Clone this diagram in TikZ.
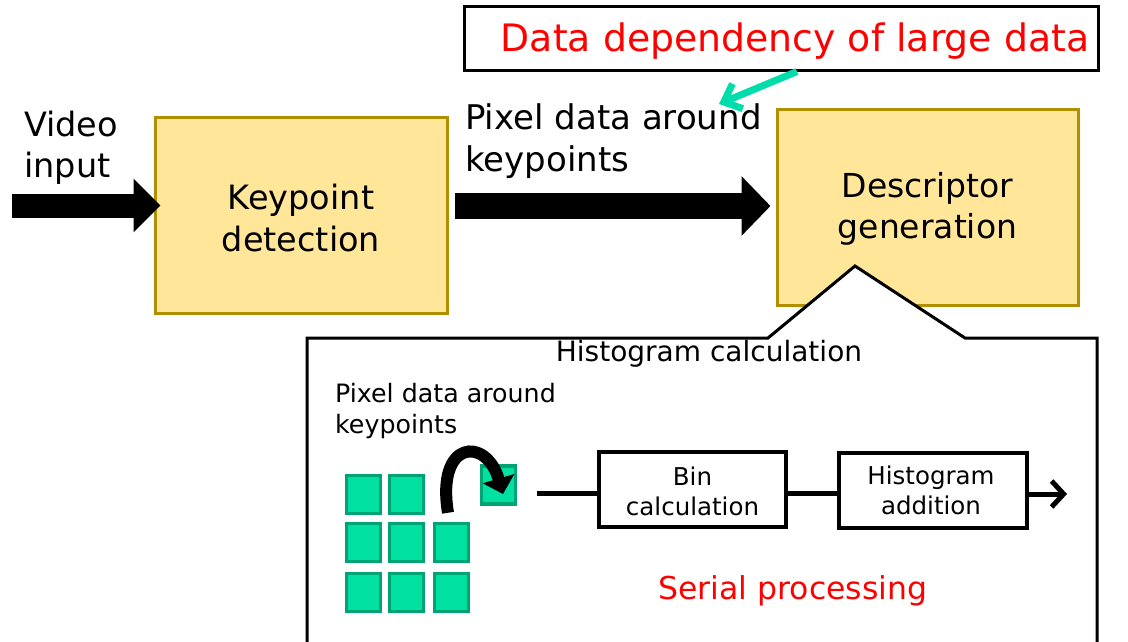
\documentclass[tikz,border=0pt]{standalone}
\usepackage{fontspec}
\setmainfont{DejaVu Sans}
\usetikzlibrary{arrows.meta}
\definecolor{boxfill}{HTML}{FFE699}
\definecolor{boxline}{HTML}{B08F00}
\definecolor{tealarrow}{HTML}{00DDAA}
\definecolor{cellfill}{HTML}{00E0A0}
\definecolor{cellline}{HTML}{00A474}
\definecolor{alertred}{HTML}{FF0000}
\newcommand{\fs}[1]{\fontsize{#1}{1.23\dimexpr#1pt\relax}\selectfont}
\tikzset{
  stage/.style={draw=boxline, fill=boxfill, line width=3pt, align=center,
    font=\fs{33.5}},
  substage/.style={draw=black, line width=4pt, align=center, font=\fs{24.5}},
  cell/.style={draw=cellline, fill=cellfill, line width=3.5pt,
    minimum width=34pt, minimum height=38pt, inner sep=0pt},
  label/.style={align=left, inner sep=0pt},
}
\begin{document}
\begin{tikzpicture}[x=1pt, y=-1pt]
\useasboundingbox (0,0) rectangle (1128,641);

% heading box
\node[draw=black, line width=3pt, minimum width=634pt, minimum height=64pt,
  inner sep=0pt] (topbox) at (781,38) {};
\node[text=alertred, font=\fs{37.8}, inner sep=0pt] (toplabel) at (795,41)
  {Data dependency of large data};

% main stages
\node[stage, minimum width=292pt, minimum height=196pt] (kp) at (301,215) {};
\node[font=\fs{33.5}, align=center, inner sep=0pt] (kptext) at (301,218)
  {Keypoint\\detection};
\node[stage, minimum width=301pt, minimum height=196pt] (desc) at (927.5,207) {};
\node[font=\fs{33}, align=center, inner sep=0pt] (desctext) at (927.5,209)
  {Descriptor\\generation};

% texts on the top row
\node[label, anchor=west, font=\fs{33.5}] (video) at (24,148) {Video\\input};
\node[label, anchor=west, font=\fs{34}] (pix) at (465,141)
  {Pixel data around\\keypoints};

% big flow arrows
\coordinate (vin) at (12,205.5);
\draw[line width=24pt, -{Triangle[length=27pt,width=52pt]}]
  (vin) -- ([xshift=7pt]kp.west |- vin);
\draw[line width=26pt, -{Triangle[length=29pt,width=58pt]}]
  ([xshift=6pt]kp.east |- 0,206) -- ([xshift=-5pt]desc.west |- 0,206);

% teal pointer from the heading box
\draw[tealarrow, line width=7pt, -{Straight Barb[length=15pt,width=27pt]}]
  (topbox.south -| 797,0) -- (719,104);

% callout with the histogram detail
\draw[black, fill=white, line width=3pt, line join=miter]
  (307,660) -- (307,338) -- (768,338) -- (855,266) -- (965,338)
  -- (1097,338) -- (1097,660);
\node[font=\fs{28}, inner sep=0pt] (histlabel) at (709,354)
  {Histogram calculation};
\node[label, anchor=west, font=\fs{25.3}] (pixsmall) at (335,411)
  {Pixel data around\\keypoints};

% pixel cells
\node[cell] (c11) at (363.5,494.5) {};
\node[cell] (c12) at (406.5,494.5) {};
\node[cell] (c21) at (363.5,542.5) {};
\node[cell] (c22) at (406.5,542.5) {};
\node[cell] (c23) at (451.5,542.5) {};
\node[cell] (c31) at (363.5,592.5) {};
\node[cell] (c32) at (406.5,592.5) {};
\node[cell] (c33) at (451.5,592.5) {};
\node[cell] (cx) at (498.5,485) {};

% one pixel is picked at a time
\draw[line width=12pt, -{Triangle[length=16pt,width=32pt]}]
  (c23.north -| 448,0) ++(0,-9) .. controls (436,440) and (486,436) .. (503,494);

% serial pipeline
\node[substage, minimum width=187pt, minimum height=75pt] (bin) at (692.5,489.5) {};
\node[font=\fs{24.5}, align=center, inner sep=0pt] (bintext) at (692.5,491)
  {Bin\\calculation};
\node[substage, minimum width=188pt, minimum height=75pt] (hadd) at (933,490) {};
\node[font=\fs{24.5}, align=center, inner sep=0pt] (haddtext) at (931,490.5)
  {Histogram\\addition};
\coordinate (pin) at (537,493.5);
\coordinate (pout) at (1067,494);
\draw[line width=4.5pt] (pin) -- (bin.west |- pin);
\draw[line width=4.5pt] (bin.east |- 0,493.5) -- (hadd.west |- 0,493.5);
\draw[line width=5pt, -{Straight Barb[length=12pt,width=26pt]}]
  (hadd.east |- pout) -- (pout);

\node[text=alertred, font=\fs{31.5}, inner sep=0pt] (serial) at (793,591)
  {Serial processing};
\end{tikzpicture}
\end{document}
